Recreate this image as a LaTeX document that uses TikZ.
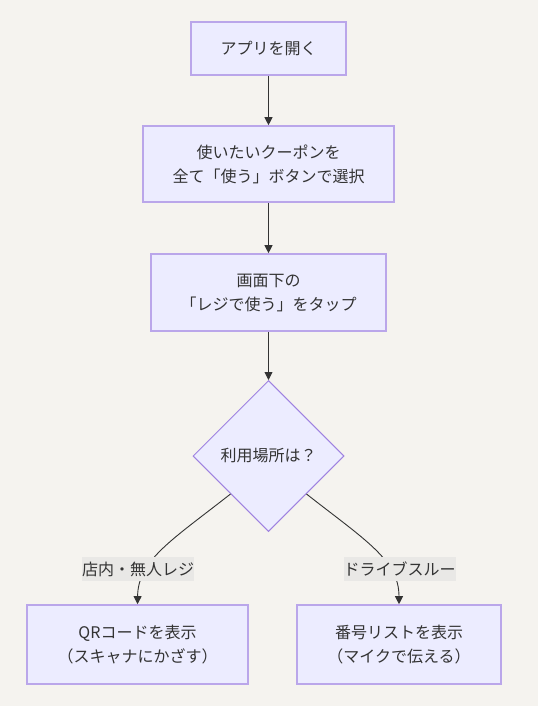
\documentclass[tikz,border=0pt]{standalone}
\usepackage{fontspec}
\setmainfont{Noto Sans CJK JP}
\usetikzlibrary{shapes.geometric,arrows.meta}
\definecolor{bgc}{HTML}{F5F3EF}
\definecolor{nodefill}{HTML}{ECECFF}
\definecolor{rectline}{HTML}{BAA6EA}
\definecolor{diamline}{HTML}{9F82E0}
\definecolor{txt}{HTML}{333333}
\definecolor{lblfill}{HTML}{E9E8E6}
\tikzset{
  stepbox/.style={draw=rectline, line width=1.6pt, fill=nodefill, align=center,
    text=txt, inner sep=0pt, font=\fontsize{16}{24}\selectfont},
  decision/.style={diamond, draw=diamline, line width=1pt, fill=nodefill,
    text=txt, inner sep=0pt, minimum width=151pt, minimum height=151pt,
    font=\fontsize{16}{24}\selectfont},
  elabel/.style={fill=lblfill, text=txt, inner xsep=0pt, inner ysep=0pt,
    minimum height=24pt, font=\fontsize{16}{24}\selectfont},
  conn/.style={draw=txt, line width=0.9pt, -{Triangle[length=8pt,width=8pt]}}
}
\begin{document}
\begin{tikzpicture}[x=1pt,y=-1pt]
\fill[bgc] (0,0) rectangle (538,706);
\useasboundingbox (0,0) rectangle (538,706);
\node[stepbox, minimum width=155pt, minimum height=53pt] (A) at (268.5,48.5) {アプリを開く};
\node[stepbox, minimum width=251pt, minimum height=76pt] (B) at (268.5,164) {使いたいクーポンを\\全て「使う」ボタンで選択};
\node[stepbox, minimum width=235pt, minimum height=77pt] (C) at (268.5,292.5) {画面下の\\「レジで使う」をタップ};
\node[decision] (D) at (268.5,456) {利用場所は？};
\node[stepbox, minimum width=221pt, minimum height=79pt] (E) at (137.5,644.5) {QRコードを表示\\（スキャナにかざす）};
\node[stepbox, minimum width=204pt, minimum height=79pt] (F) at (399,644.5) {番号リストを表示\\（マイクで伝える）};
\draw[conn] (A.south) -- (B.north);
\draw[conn] (B.south) -- (C.north);
\draw[conn] (C.south) -- (D.north);
\draw[conn] (D.south west) .. controls (172,540) and (138,560) .. (E.north);
\draw[conn] (D.south east) .. controls (365,540) and (399,560) .. (F.north);
\node[elabel] (L1) at (138,569) {店内・無人レジ};
\node[elabel] (L2) at (399.5,569) {ドライブスルー};
\end{tikzpicture}
\end{document}
